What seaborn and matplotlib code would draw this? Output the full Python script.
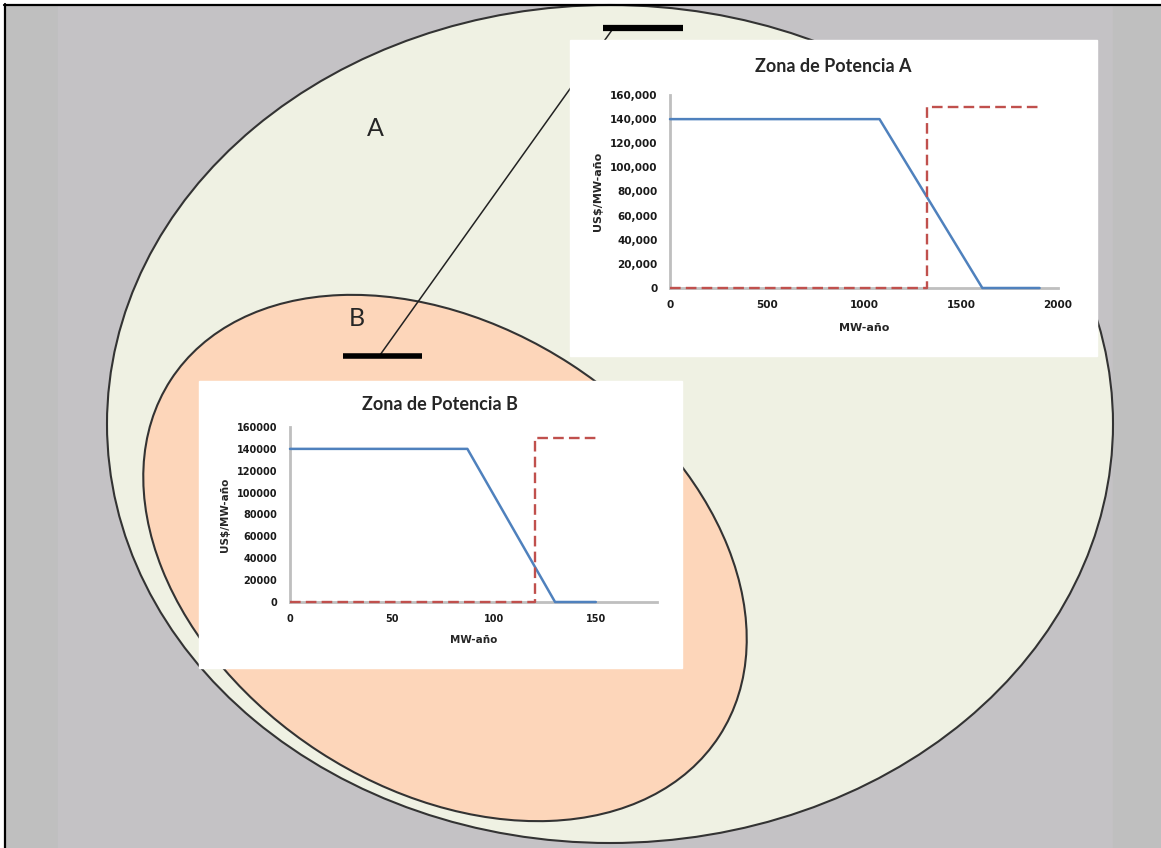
import matplotlib
matplotlib.use("Agg")
import matplotlib.pyplot as plt
from matplotlib.patches import Ellipse, Rectangle
import pandas as pd
import seaborn as sns

# Zona de Potencia A (x: MW-año, y: US$/MW-año)
a_dem_x = [0, 1080, 1610, 1905]
a_dem_y = [140000, 140000, 0, 0]
a_sup_x = [0, 1325, 1325, 1910]
a_sup_y = [0, 0, 150000, 150000]
a_xticks = [0, 500, 1000, 1500, 2000]

# Zona de Potencia B
b_dem_x = [0, 87, 130, 150]
b_dem_y = [140000, 140000, 0, 0]
b_sup_x = [0, 120, 120, 151]
b_sup_y = [0, 0, 150000, 150000]
b_xticks = [0, 50, 100, 150]

yticks = [0, 20000, 40000, 60000, 80000, 100000, 120000, 140000, 160000]
a_ylabels = ["{:,}".format(v) for v in yticks]
b_ylabels = [str(v) for v in yticks]

W, H = 1161, 848

sns.set_style("white")
plt.rcParams["font.family"] = ["DejaVu Sans"]

fig = plt.figure(figsize=(W / 100, H / 100), dpi=100)
fig.patch.set_facecolor("white")


def box(x0, y0, x1, y1):
    # pixel box (top-left origin) -> figure fraction
    return [x0 / W, 1 - y1 / H, (x1 - x0) / W, (y1 - y0) / H]


# background drawing in pixel coordinates
bg = fig.add_axes([0, 0, 1, 1])
bg.set_xlim(0, W)
bg.set_ylim(H, 0)
bg.axis("off")

bg.add_patch(Rectangle((5, 5), 53, H, color="#bfbfbf", zorder=1))
bg.add_patch(Rectangle((58, 5), 1055, H, color="#c4c2c5", zorder=1))
bg.add_patch(Rectangle((1113, 5), 60, H, color="#bfbfbf", zorder=1))
bg.plot([4, W], [5, 5], color="black", lw=1.6, zorder=8)
bg.plot([5, 5], [4, H], color="black", lw=1.6, zorder=8)

bg.add_patch(Ellipse((610, 424), 1006, 838, facecolor="#eff1e3",
                     edgecolor="#333333", lw=1.5, zorder=2))
bg.add_patch(Ellipse((445, 558), 654, 462, angle=33, facecolor="#fdd6ba",
                     edgecolor="#333333", lw=1.5, zorder=3))

# connector and bars
bg.plot([612, 380], [30, 355], color="#222222", lw=1.1, zorder=4)
bg.plot([603, 683], [28, 28], color="black", lw=4.5, solid_capstyle="butt", zorder=5)
bg.plot([343, 422], [356, 356], color="black", lw=4, solid_capstyle="butt", zorder=5)

# white chart boxes
bg.add_patch(Rectangle((570, 40), 527, 316, color="white", zorder=6))
bg.add_patch(Rectangle((199, 381), 483, 287, color="white", zorder=6))

bg.text(375, 128, "A", fontsize=18, family="Lato", color="#262626",
        ha="center", va="center", zorder=7)
bg.text(357, 318, "B", fontsize=18, family="Lato", color="#262626",
        ha="center", va="center", zorder=7)


def draw_chart(rect, title, title_x, title_y, dem_x, dem_y, sup_x, sup_y,
               xmax, xticks, ylabels, tsize, lsize, ylab_x, xlab_y):
    ax = fig.add_axes(box(*rect))
    ax.set_facecolor("none")
    dem = pd.DataFrame({"x": dem_x, "y": dem_y})
    sup = pd.DataFrame({"x": sup_x, "y": sup_y})
    sns.lineplot(data=dem, x="x", y="y", sort=False, estimator=None,
                 errorbar=None, color="#4f81bd", lw=1.8, zorder=3,
                 clip_on=False, ax=ax)
    sns.lineplot(data=sup, x="x", y="y", sort=False, estimator=None,
                 errorbar=None, color="#c0504d", lw=1.7, zorder=3,
                 clip_on=False, linestyle=(0, (4.5, 2.2)), ax=ax)
    ax.set_xlim(0, xmax)
    ax.set_ylim(0, 160000)
    ax.set_xticks(xticks, [str(v) for v in xticks], fontsize=tsize,
                  fontweight="bold", color="#1a1a1a")
    ax.set_yticks(yticks, ylabels, fontsize=tsize, fontweight="bold",
                  color="#1a1a1a")
    ax.tick_params(length=0, pad=9)
    sns.despine(ax=ax)
    for s in ["left", "bottom"]:
        ax.spines[s].set_color("#bfbfbf")
        ax.spines[s].set_linewidth(2)
    ax.set_xlabel("MW-año", fontsize=lsize, fontweight="bold", va="center")
    ax.set_ylabel("US$/MW-año", fontsize=lsize, fontweight="bold", va="center")
    ax.xaxis.set_label_coords(0.5, xlab_y)
    ax.yaxis.set_label_coords(ylab_x, 0.5)
    ax.set_title(title, fontsize=13, fontweight="bold", family="Lato",
                 x=title_x, y=title_y, va="center", pad=0)
    return ax


draw_chart((670, 95, 1058, 288), "Zona de Potencia A", 0.42, 1.15,
           a_dem_x, a_dem_y, a_sup_x, a_sup_y, 2000, a_xticks, a_ylabels,
           7.5, 8, -0.186, -0.207)
draw_chart((290, 427, 657, 602), "Zona de Potencia B", 0.409, 1.126,
           b_dem_x, b_dem_y, b_sup_x, b_sup_y, 180, b_xticks, b_ylabels,
           7, 7.5, -0.177, -0.217)

fig.savefig("out.png", dpi=100)
